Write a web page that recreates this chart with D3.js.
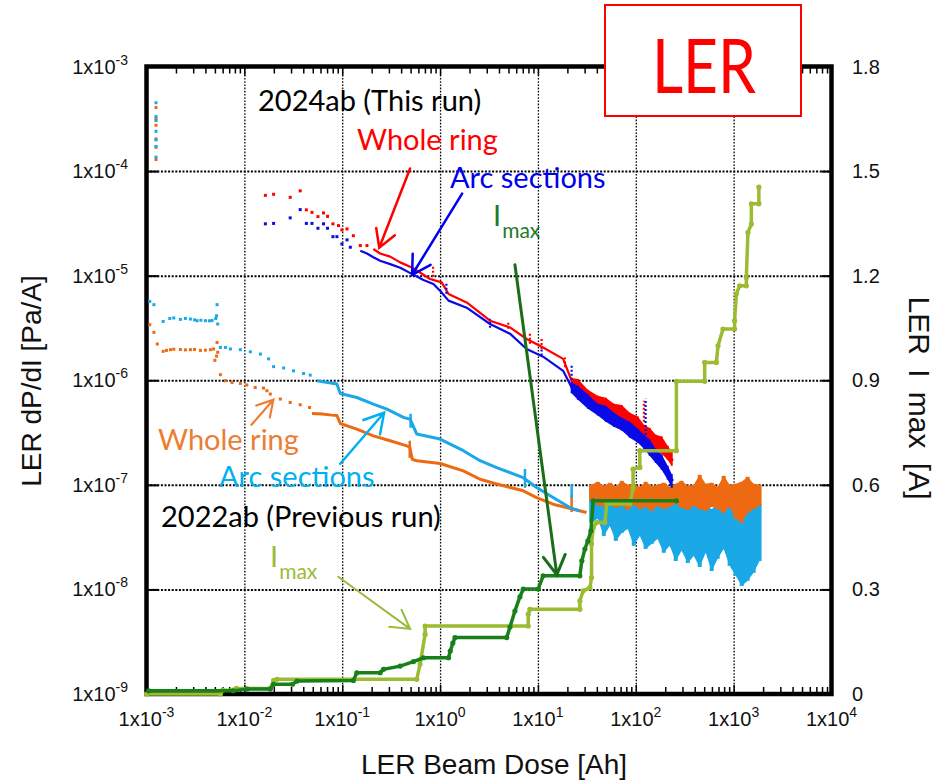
<!DOCTYPE html>
<html>
<head>
<meta charset="utf-8">
<script src="https://cdn.jsdelivr.net/npm/d3@7"></script>
<style>
  body { margin: 0; background: #fff; }
  svg { display: block; }
</style>
</head>
<body>
<svg id="chart" width="936" height="782"></svg>
<script>
// ---------------- data ----------------
// Axis ticks
const doseTickExponents = [-3, -2, -1, 0, 1, 2, 3, 4];
const dpdiTickExponents = [-9, -8, -7, -6, -5, -4, -3];
const imaxTicks = [0, 0.3, 0.6, 0.9, 1.2, 1.5, 1.8];
const imaxTickLabels = ["0", "0.3", "0.6", "0.9", "1.2", "1.5", "1.8"];

// 2024ab whole ring dP/dI [dose Ah, Pa/A]: sparse early points, then dense trace
const ring2024Dots = [[0.0164,5.86e-5],[0.0199,6.0e-5],[0.0294,5.61e-5],[0.0372,6.47e-5],[0.043,4.26e-5],[0.0491,4.03e-5],[0.0565,3.67e-5],[0.0644,3.98e-5],[0.0708,3.69e-5],[0.0804,3.13e-5],[0.0916,3.01e-5],[0.0993,2.74e-5],[0.112,2.8e-5],[0.130,2.41e-5],[0.153,1.94e-5],[0.179,1.94e-5]];
const ring2024Trace = [[0.208,1.80e-5],[0.244,1.63e-5],[0.309,1.52e-5],[0.391,1.34e-5],[0.514,1.20e-5],[0.676,1.02e-5],[0.791,9.29e-6],[1.04,8.63e-6],[1.22,6.68e-6],[1.87,5.55e-6],[3.24,3.71e-6],[5.18,3.20e-6],[7.67,2.48e-6],[11.3,2.06e-6],[18.1,1.60e-6],[22.1,9.89e-7],[31.4,7.11e-7],[58.6,5.11e-7],[80.4,4.41e-7],[110,3.53e-7],[129,3.06e-7],[190,2.28e-7],[240,1.70e-7]];
// isolated spikes [dose, low, high]
const ring2024Spikes = [[0.849,8.95e-6,1.25e-5],[4.98,3.11e-6,3.71e-6],[8.28,2.23e-6,2.79e-6],[10.9,1.99e-6,2.57e-6],[18.9,1.33e-6,1.65e-6],[121,4.0e-7,6.37e-7]];
// scattered tail [dose, low, high]
const ring2024Band = [[22.1,9.0e-7,1.05e-6],[25.6,7.59e-7,1.03e-6],[32.4,5.96e-7,8.11e-7],[40.9,5.4e-7,7.11e-7],[49.4,4.78e-7,6.8e-7],[59.7,4.5e-7,5.96e-7],[71.9,4.1e-7,5.8e-7],[86.9,3.7e-7,4.89e-7],[105,3.15e-7,4.5e-7],[121,2.9e-7,3.75e-7],[139,2.55e-7,3.5e-7],[160,2.21e-7,3.01e-7],[184,1.98e-7,2.9e-7],[212,1.73e-7,2.36e-7],[233,1.52e-7,2.07e-7]];

// 2024ab arc sections dP/dI
const arc2024Dots = [[0.0164,3.13e-5],[0.0199,3.16e-5],[0.0294,3.57e-5],[0.0372,4.28e-5],[0.043,3.16e-5],[0.0491,3.16e-5],[0.0565,2.84e-5],[0.0644,3.13e-5],[0.0708,2.84e-5],[0.0804,2.36e-5],[0.0883,2.36e-5],[0.0993,2.01e-5],[0.112,2.20e-5],[0.121,1.87e-5]];
const arc2024Trace = [[0.153,1.73e-5],[0.179,1.63e-5],[0.208,1.50e-5],[0.244,1.39e-5],[0.309,1.29e-5],[0.391,1.19e-5],[0.514,1.04e-5],[0.676,9.1e-6],[0.855,8.33e-6],[1.0,7.18e-6],[1.22,5.77e-6],[1.87,4.94e-6],[3.24,3.45e-6],[5.18,2.79e-6],[7.67,1.99e-6],[11.3,1.68e-6],[18.1,1.23e-6],[22.1,8.53e-7],[31.4,6.37e-7],[58.6,4.25e-7],[80.4,3.53e-7],[110,2.84e-7],[129,2.45e-7],[190,1.58e-7],[240,1.09e-7]];
const arc2024Spikes = [[1.16,6.73e-6,8.37e-6],[3.24,3.18e-6,3.88e-6],[10.9,1.72e-6,2.06e-6],[22.1,8.48e-7,1.44e-6],[126,3.0e-7,6.65e-7]];
const arc2024Band = [[22.1,7.5e-7,9.5e-7],[25.6,6.51e-7,8.86e-7],[32.4,5.34e-7,7.3e-7],[40.9,4.6e-7,5.96e-7],[49.4,4.01e-7,5.7e-7],[59.7,3.59e-7,4.89e-7],[71.9,3.3e-7,4.38e-7],[86.9,2.82e-7,4.0e-7],[105,2.52e-7,3.43e-7],[121,2.21e-7,3.01e-7],[139,1.89e-7,2.7e-7],[160,1.62e-7,2.21e-7],[184,1.39e-7,1.95e-7],[212,1.12e-7,1.52e-7],[233,9.36e-8,1.27e-7]];

// 2022ab whole ring dP/dI
const ring2022Dots = [[0.00125,4.05e-4],[0.00125,3.16e-4],[0.00125,2.74e-4],[0.00125,2.03e-4],[0.00125,1.69e-4],[0.00125,1.29e-4],[0.00108,3.4e-6],[0.00119,2.87e-6],[0.00129,2.22e-6],[0.00148,1.89e-6],[0.0016,1.93e-6],[0.00176,1.96e-6],[0.0019,1.98e-6],[0.00222,1.97e-6],[0.0025,1.95e-6],[0.00281,1.96e-6],[0.0031,1.97e-6],[0.00356,1.93e-6],[0.004,1.94e-6],[0.0045,1.96e-6],[0.00485,1.99e-6],[0.00526,2.3e-6],[0.0052,1.7e-6],[0.0050,1.55e-6],[0.00534,1.85e-6],[0.00569,1.13e-6],[0.0064,9.9e-7],[0.00748,9.53e-7],[0.0091,9.32e-7],[0.0106,9.0e-7],[0.0129,8.53e-7],[0.0157,8.42e-7],[0.017,7.94e-7],[0.0184,7.38e-7],[0.0233,6.61e-7],[0.0294,6.13e-7],[0.0372,5.83e-7],[0.0464,5.49e-7]];
const ring2022Trace = [[0.0491,4.81e-7],[0.0621,4.75e-7],[0.0785,4.64e-7],[0.0883,4.6e-7],[0.0955,3.86e-7],[0.141,3.41e-7],[0.208,2.94e-7],[0.309,2.64e-7],[0.457,2.36e-7],[0.49,2.3e-7],[0.52,1.75e-7],[0.578,1.7e-7],[1.0,1.6e-7],[1.73,1.36e-7],[2.56,1.13e-7],[3.79,1.02e-7],[7.08,8.77e-8],[9.7,7.56e-8],[14.3,6.53e-8],[22.9,5.85e-8],[31.4,5.43e-8]];
const ring2022Spikes = [[0.49,1.81e-7,2.64e-7],[22.1,5.5e-8,8.0e-8]];
// noisy tail [dose, low, high]
const ring2022Band = [[35,7.03e-8,1.0e-7],[40.9,6.44e-8,1.068e-7],[47.1,6.16e-8,9.78e-8],[54.3,6.58e-8,1.045e-7],[62.5,6.03e-8,9.57e-8],[71.9,6.3e-8,1.092e-7],[82.8,5.77e-8,1.0e-7],[95.4,6.44e-8,1.022e-7],[110,5.89e-8,9.57e-8],[126,6.16e-8,1.068e-7],[146,5.64e-8,9.78e-8],[167,6.3e-8,1.0e-7],[193,5.89e-8,1.045e-7],[222,6.16e-8,9.57e-8],[256,6.58e-8,1.022e-7],[294,6.03e-8,1.092e-7],[340,5.77e-8,9.78e-8],[391,6.3e-8,1.0e-7],[450,5.89e-8,1.246e-7],[518,5.64e-8,1.022e-7],[597,6.16e-8,1.045e-7],[687,5.89e-8,9.57e-8],[791,5.4e-8,1.219e-7],[910,6.16e-8,1.0e-7],[1050,4.73e-8,1.022e-7],[1210,4.33e-8,1.068e-7],[1390,5.4e-8,1.193e-7],[1600,5.89e-8,1.022e-7],[1840,6.3e-8,1.0e-7]];

// 2022ab arc sections dP/dI
const arc2022Dots = [[0.00125,4.5e-4],[0.00125,3.32e-4],[0.00125,3.04e-4],[0.00125,2.4e-4],[0.00125,1.99e-4],[0.00125,1.72e-4],[0.00125,1.36e-4],[0.00108,5.67e-6],[0.00119,5.28e-6],[0.00148,3.65e-6],[0.00173,3.9e-6],[0.0019,3.94e-6],[0.00222,3.82e-6],[0.0025,3.9e-6],[0.00281,3.85e-6],[0.0031,3.78e-6],[0.00329,3.71e-6],[0.0036,3.75e-6],[0.004,3.71e-6],[0.0044,3.7e-6],[0.00468,3.73e-6],[0.00526,5.28e-6],[0.0052,4.14e-6],[0.00534,3.45e-6],[0.0051,3.9e-6],[0.00569,2.06e-6],[0.0064,2.06e-6],[0.0072,1.99e-6],[0.0091,1.96e-6],[0.0115,1.87e-6],[0.0146,1.78e-6],[0.0177,1.6e-6],[0.0199,1.35e-6],[0.0252,1.31e-6],[0.0318,1.23e-6],[0.0403,1.16e-6],[0.0471,1.12e-6]];
const arc2022Trace = [[0.0552,9.9e-7],[0.0883,9.2e-7],[0.0955,7.48e-7],[0.141,6.84e-7],[0.208,5.92e-7],[0.286,5.3e-7],[0.423,4.41e-7],[0.494,4.25e-7],[0.578,3.06e-7],[1.0,2.74e-7],[1.73,2.12e-7],[2.56,1.7e-7],[3.79,1.46e-7],[7.08,1.17e-7],[9.7,9.42e-8],[14.3,7.56e-8],[21.2,6.06e-8],[26.8,5.64e-8]];
const arc2022Spikes = [[0.5,3.51e-7,4.78e-7],[7.37,9.36e-8,1.42e-7],[22.1,7.51e-8,1.02e-7]];
const arc2022Band = [[35,4.33e-8,9.16e-8],[40.9,4.73e-8,8.38e-8],[47.1,3.25e-8,7.85e-8],[54.3,4.05e-8,7.35e-8],[62.5,2.91e-8,8.2e-8],[71.9,3.47e-8,7.51e-8],[82.8,3.79e-8,7.85e-8],[95.4,2.61e-8,7.03e-8],[110,3.25e-8,7.68e-8],[126,2.44e-8,7.03e-8],[146,2.73e-8,6.73e-8],[167,3.04e-8,7.35e-8],[193,2.24e-8,6.58e-8],[222,2.61e-8,6.3e-8],[256,1.87e-8,7.03e-8],[294,2.34e-8,6.44e-8],[340,1.79e-8,6.16e-8],[391,2.09e-8,6.58e-8],[450,1.64e-8,6.3e-8],[518,2.24e-8,6.16e-8],[597,1.5e-8,5.89e-8],[687,1.96e-8,6.44e-8],[791,2.44e-8,6.16e-8],[910,1.68e-8,6.3e-8],[1050,1.35e-8,7.03e-8],[1210,1.08e-8,7.85e-8],[1390,1.21e-8,7.35e-8],[1600,1.44e-8,7.03e-8],[1840,1.87e-8,6.58e-8]];

// Maximum beam current [dose Ah, A]
const imax2024 = [[0.00105,0.009],[0.0077,0.009],[0.0107,0.014],[0.0184,0.014],[0.0199,0.028],[0.031,0.028],[0.0345,0.037],[0.130,0.039],[0.141,0.061],[0.244,0.061],[0.264,0.071],[0.391,0.080],[0.535,0.093],[0.676,0.104],[1.22,0.104],[1.27,0.123],[1.35,0.146],[1.42,0.162],[4.8,0.162],[5.18,0.192],[5.82,0.238],[6.55,0.279],[7.08,0.301],[10.07,0.301],[11.3,0.339],[26.8,0.339],[28.1,0.382],[30.2,0.416],[32.4,0.439],[34.8,0.468],[36.7,0.554],[260,0.554]];
const imax2022 = [[0.001,0],[0.0057,0],[0.006,0.011],[0.0077,0.011],[0.0083,0.016],[0.0184,0.016],[0.0199,0.039],[0.0216,0.042],[0.578,0.042],[0.625,0.086],[0.703,0.171],[0.703,0.195],[7.96,0.195],[7.96,0.229],[8.28,0.243],[26.8,0.243],[26.8,0.267],[29.0,0.296],[34.0,0.305],[35.3,0.334],[35.3,0.431],[36.7,0.477],[39.7,0.492],[48.3,0.492],[50.6,0.546],[86.9,0.546],[93.8,0.591],[93.8,0.645],[110,0.650],[110,0.698],[260,0.698],[260,0.897],[506,0.897],[506,0.951],[666,0.951],[692,0.999],[778,1.047],[1023,1.047],[1023,1.071],[1066,1.148],[1151,1.171],[1348,1.171],[1348,1.195],[1400,1.324],[1517,1.348],[1517,1.406],[1811,1.406],[1811,1.454]];

// ---------------- layout ----------------
const X0 = 146.5, X1 = 831.5, Y0 = 66.5, Y1 = 694;
const C = {
  ring2024: "#ff0000", arc2024: "#0a0ae6",
  ring2022: "#ee6a12", arc2022: "#1aa8e6",
  imax2024: "#17801a", imax2022: "#9bbb30"
};
const tickFont = "'Liberation Sans', Arial, sans-serif";
const noteFont = "Lato, 'Open Sans', sans-serif";

const svg = d3.select("#chart");
const x = d3.scaleLog().domain([1e-3, 1e4]).range([X0, X1]);
const y = d3.scaleLog().domain([1e-9, 1e-3]).range([Y1, Y0]);
const yR = d3.scaleLinear().domain([0, 1.8]).range([Y1, Y0]);

const decadesX = doseTickExponents.map(e => Math.pow(10, e));
const decadesY = dpdiTickExponents.map(e => Math.pow(10, e));
const minorX = [];
decadesX.slice(0, -1).forEach(d => { for (let k = 2; k <= 9; k++) minorX.push(d * k); });

// ---------------- grid ----------------
const grid = svg.append("g");
grid.append("g").attr("transform", `translate(0,${Y1})`)
  .call(d3.axisBottom(x).tickValues(decadesX.slice(1, -1)).tickSize(-(Y1 - Y0)).tickFormat(""))
  .call(g => g.select(".domain").remove())
  .selectAll("line").attr("stroke", "#000").attr("stroke-width", 1.3).attr("stroke-dasharray", "1.6,1.6");
grid.append("g").attr("transform", `translate(${X0},0)`)
  .call(d3.axisLeft(y).tickValues(decadesY.slice(1, -1)).tickSize(-(X1 - X0)).tickFormat(""))
  .call(g => g.select(".domain").remove())
  .selectAll("line").attr("stroke", "#000").attr("stroke-width", 2).attr("stroke-dasharray", "2,1.6");

// ---------------- frame & ticks ----------------
svg.append("rect").attr("x", X0).attr("y", Y0).attr("width", X1 - X0).attr("height", Y1 - Y0)
  .attr("fill", "none").attr("stroke", "#000").attr("stroke-width", 4.5);

function styleTicks(g, w) {
  g.select(".domain").remove();
  g.selectAll("line").attr("stroke", "#000").attr("stroke-width", w);
}
svg.append("g").attr("transform", `translate(0,${Y1})`)
  .call(d3.axisBottom(x).tickValues(minorX).tickSize(-7).tickFormat("")).call(g => styleTicks(g, 1.5));
svg.append("g").attr("transform", `translate(0,${Y0})`)
  .call(d3.axisTop(x).tickValues(minorX).tickSize(-7).tickFormat("")).call(g => styleTicks(g, 1.5));
svg.append("g").attr("transform", `translate(0,${Y1})`)
  .call(d3.axisBottom(x).tickValues(decadesX).tickSize(-9).tickFormat("")).call(g => styleTicks(g, 1.5));
svg.append("g").attr("transform", `translate(0,${Y0})`)
  .call(d3.axisTop(x).tickValues(decadesX).tickSize(-9).tickFormat("")).call(g => styleTicks(g, 1.5));
svg.append("g").attr("transform", `translate(${X0},0)`)
  .call(d3.axisLeft(y).tickValues(decadesY).tickSize(-12).tickFormat("")).call(g => styleTicks(g, 2));
svg.append("g").attr("transform", `translate(${X1},0)`)
  .call(d3.axisRight(yR).tickValues(imaxTicks).tickSize(-10).tickFormat("")).call(g => styleTicks(g, 2));

// tick labels "1x10^n"
function powerLabel(sel) {
  sel.append("tspan").text("1x10");
  sel.append("tspan").attr("dy", -9).attr("font-size", 14).text(d => d);
}
svg.append("g").selectAll("text").data(doseTickExponents).join("text")
  .attr("x", d => x(Math.pow(10, d))).attr("y", 726)
  .attr("text-anchor", "middle").attr("font-family", tickFont).attr("font-size", 20).attr("fill", "#111")
  .call(powerLabel);
svg.append("g").selectAll("text").data(dpdiTickExponents).join("text")
  .attr("x", 128).attr("y", d => y(Math.pow(10, d)) + 7)
  .attr("text-anchor", "end").attr("font-family", tickFont).attr("font-size", 20).attr("fill", "#111")
  .call(powerLabel);
svg.append("g").selectAll("text").data(imaxTicks).join("text")
  .attr("x", 852).attr("y", d => yR(d) + 7)
  .attr("font-family", tickFont).attr("font-size", 20).attr("fill", "#111")
  .text((d, i) => imaxTickLabels[i]);

// axis titles
svg.append("text").attr("x", 494).attr("y", 774).attr("text-anchor", "middle")
  .attr("font-family", tickFont).attr("font-size", 28).attr("fill", "#111").text("LER Beam Dose [Ah]");
svg.append("text").attr("transform", "translate(41,381) rotate(-90)").attr("text-anchor", "middle")
  .attr("font-family", tickFont).attr("font-size", 28).attr("fill", "#111").text("LER dP/dI [Pa/A]");
svg.append("text").attr("transform", "translate(909,398) rotate(90)").attr("text-anchor", "middle")
  .attr("font-family", tickFont).attr("font-size", 30).attr("word-spacing", 6).attr("fill", "#111").text("LER I max [A]");

// ---------------- data marks ----------------
const plot = svg.append("g");
const lineLL = d3.line().x(d => x(d[0])).y(d => y(d[1]));
const lineR = d3.line().x(d => x(d[0])).y(d => yR(d[1]));
const bandArea = d3.area().x(d => x(d[0])).y0(d => y(d[1])).y1(d => y(d[2]));

function dots(data, color, s) {
  plot.append("g").selectAll("rect").data(data).join("rect")
    .attr("x", d => x(d[0]) - s / 2).attr("y", d => y(d[1]) - s / 2)
    .attr("width", s).attr("height", s).attr("fill", color);
}
function trace(data, color, w) {
  plot.append("path").datum(data).attr("d", lineLL)
    .attr("fill", "none").attr("stroke", color).attr("stroke-width", w).attr("stroke-linejoin", "round");
}
function spikes(data, color, w, dash) {
  plot.append("g").selectAll("line").data(data).join("line")
    .attr("x1", d => x(d[0])).attr("x2", d => x(d[0]))
    .attr("y1", d => y(d[1])).attr("y2", d => y(d[2]))
    .attr("stroke", color).attr("stroke-width", w)
    .attr("stroke-dasharray", dash || null);
}
function band(data, color, barW) {
  plot.append("path").datum(data).attr("d", bandArea).attr("fill", color);
  spikes(data, color, barW);
}

// 2022ab run
band(arc2022Band, C.arc2022, 4);
band(ring2022Band, C.ring2022, 4);
dots(ring2022Dots, C.ring2022, 3);
trace(ring2022Trace, C.ring2022, 3);
spikes(ring2022Spikes, C.ring2022, 2.5);
dots(arc2022Dots, C.arc2022, 3);
trace(arc2022Trace, C.arc2022, 3);
spikes(arc2022Spikes, C.arc2022, 2.5);

// 2024ab run
dots(ring2024Dots, C.ring2024, 3);
trace(ring2024Trace, C.ring2024, 2.2);
band(ring2024Band, C.ring2024, 2);
spikes(ring2024Spikes, C.ring2024, 2.2, "2,2");
dots(arc2024Dots, C.arc2024, 3);
trace(arc2024Trace, C.arc2024, 2.2);
band(arc2024Band, C.arc2024, 2);
spikes(arc2024Spikes, C.arc2024, 2.2, "2,2");

// Imax (right axis)
function imaxLine(data, color) {
  plot.append("path").datum(data).attr("d", lineR)
    .attr("fill", "none").attr("stroke", color).attr("stroke-width", 3.5);
  plot.append("g").selectAll("circle").data(data).join("circle")
    .attr("cx", d => x(d[0])).attr("cy", d => yR(d[1])).attr("r", 2.6).attr("fill", color);
}
imaxLine(imax2022, C.imax2022);
imaxLine(imax2024, C.imax2024);

// ---------------- annotations ----------------
const notes = svg.append("g").attr("font-family", noteFont).attr("font-size", 29);
function note(txt, px, py, color) {
  notes.append("text").attr("x", px).attr("y", py).attr("fill", color).text(txt);
}
function imaxNote(px, py, color) {
  const t = notes.append("text").attr("x", px).attr("y", py).attr("fill", color);
  t.append("tspan").text("I");
  t.append("tspan").attr("dy", 12).attr("dx", 1).attr("font-size", 21).text("max");
}
function arrow(from, to, color, w, len) {
  const x1 = x(from[0]), y1 = y(from[1]), x2 = x(to[0]), y2 = y(to[1]);
  const a = Math.atan2(y1 - y2, x1 - x2), s = 30 * Math.PI / 180;
  const p = d3.path();
  p.moveTo(x1, y1); p.lineTo(x2, y2);
  p.moveTo(x2 + len * Math.cos(a + s), y2 + len * Math.sin(a + s));
  p.lineTo(x2, y2);
  p.lineTo(x2 + len * Math.cos(a - s), y2 + len * Math.sin(a - s));
  svg.append("path").attr("d", p.toString()).attr("fill", "none")
    .attr("stroke", color).attr("stroke-width", w).attr("stroke-linecap", "round");
}

note("2024ab (This run)", 258, 111, "#000");
note("Whole ring", 357, 150, "#ff0000");
note("Arc sections", 450, 188, "#0000ee");
imaxNote(493, 226, "#1e7a2a");
note("Whole ring", 158, 450, "#ed7d31");
note("Arc sections", 219, 487, "#00b0f0");
note("2022ab (Previous run)", 161, 527, "#000");
imaxNote(270, 567, "#9bbb3b");

arrow([0.494, 1.06e-4], [0.239, 1.85e-5], "#ff0000", 2.5, 20);
arrow([1.68, 6.1e-5], [0.518, 1.02e-5], "#0000ee", 2.5, 21);
arrow([5.82, 1.27e-5], [15.6, 1.38e-8], "#1a6e1a", 3, 22);
arrow([0.0118, 3.75e-7], [0.0198, 6.51e-7], "#ed7d31", 2.2, 18);
arrow([0.0955, 1.59e-7], [0.268, 4.89e-7], "#00b0f0", 2.5, 22);
arrow([0.091, 1.32e-8], [0.494, 4.19e-9], "#9bbb3b", 2, 21);

// ---------------- title box ----------------
svg.append("rect").attr("x", 605).attr("y", 5).attr("width", 196).attr("height", 111)
  .attr("fill", "#fff").attr("stroke", "#ff0000").attr("stroke-width", 2);
svg.append("text").attr("x", 652).attr("y", 93)
  .attr("textLength", 104).attr("lengthAdjust", "spacingAndGlyphs")
  .attr("font-family", noteFont).attr("font-size", 75).attr("fill", "#ff0000").text("LER");
</script>
</body>
</html>
